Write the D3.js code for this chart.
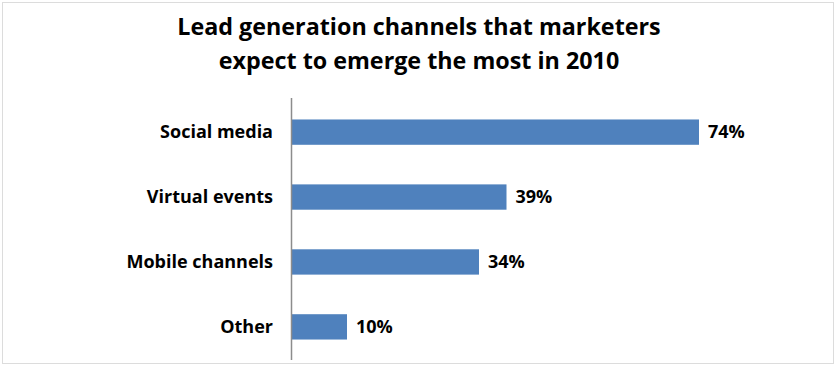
<!DOCTYPE html>
<html><head><meta charset="utf-8">
<script src="https://cdn.jsdelivr.net/npm/d3@7"></script>
<style>html,body{margin:0;padding:0;background:#fff;}</style>
</head><body>
<svg id="c" width="838" height="368"></svg>
<script>
const categories = ["Social media", "Virtual events", "Mobile channels", "Other"];
const values = [74, 39, 34, 10];
const titleLines = ["Lead generation channels that marketers", "expect to emerge the most in 2010"];

const svg = d3.select("#c");
const font = "'Open Sans', sans-serif";
svg.append("rect").attr("x", 2.5).attr("y", 2.5).attr("width", 831).attr("height", 361)
  .attr("fill", "#fff").attr("stroke", "#dcdcdc");

svg.selectAll("text.title").data(titleLines).join("text")
  .attr("class", "title")
  .attr("x", 419).attr("y", (d, i) => 35 + i * 33.5)
  .attr("text-anchor", "middle")
  .attr("font-family", font).attr("font-weight", "bold").attr("font-size", 23.3)
  .attr("fill", "#000").text(d => d);

const x0 = 292;
const x = d3.scaleLinear().domain([0, 10]).range([x0, x0 + 55]);
const y = d3.scaleBand().domain(categories).range([100, 359]).paddingInner(0.61).paddingOuter(0.3);

svg.selectAll("rect.bar").data(values).join("rect")
  .attr("class", "bar")
  .attr("x", x(0)).attr("y", (d, i) => y(categories[i]))
  .attr("width", d => x(d) - x(0)).attr("height", y.bandwidth())
  .attr("fill", "#4F81BD");

svg.append("line").attr("x1", x0 - 0.5).attr("x2", x0 - 0.5).attr("y1", 98).attr("y2", 360)
  .attr("stroke", "#8c8c8c").attr("stroke-width", 1.5);

svg.selectAll("text.cat").data(categories).join("text")
  .attr("class", "cat")
  .attr("x", 273).attr("y", d => y(d) + y.bandwidth() / 2)
  .attr("dy", "0.35em").attr("text-anchor", "end")
  .attr("font-family", font).attr("font-weight", "bold").attr("font-size", 18)
  .attr("fill", "#000").text(d => d);

svg.selectAll("text.val").data(values).join("text")
  .attr("class", "val")
  .attr("x", d => x(d) + 9).attr("y", (d, i) => y(categories[i]) + y.bandwidth() / 2)
  .attr("dy", "0.35em")
  .attr("font-family", font).attr("font-weight", "bold").attr("font-size", 18)
  .attr("fill", "#000").text(d => d + "%");
</script>
</body></html>
